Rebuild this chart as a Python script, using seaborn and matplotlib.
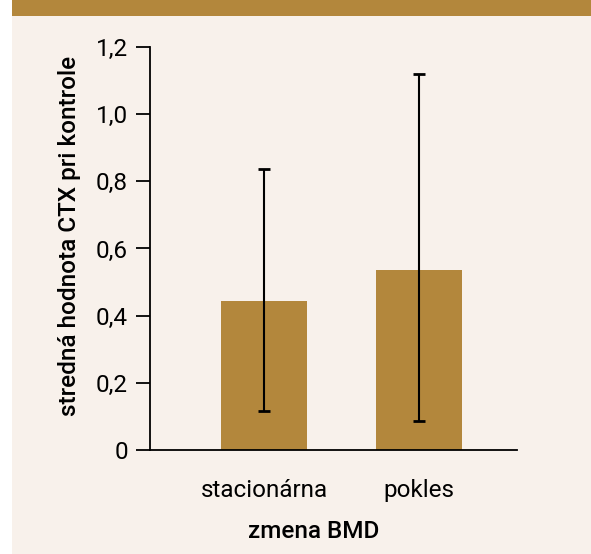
import matplotlib
matplotlib.use("Agg")
import matplotlib.pyplot as plt
import seaborn as sns
import pandas as pd
from matplotlib.ticker import FuncFormatter
from matplotlib.patches import Rectangle

categories = ["stacionárna", "pokles"]
means = [0.444, 0.536]
err_low = [0.117, 0.087]
err_high = [0.837, 1.12]
y_ticks = [0, 0.2, 0.4, 0.6, 0.8, 1.0, 1.2]

BG = "#f8f1eb"
BAR = "#b3873c"
FS = 17.5

sns.set_theme(style="white")
plt.rcParams["font.family"] = ["Roboto", "DejaVu Sans"]

fig = plt.figure(figsize=(5.91, 5.54), dpi=100)
fig.patch.set_facecolor("white")
fig.patches.append(Rectangle((12 / 591, 0), 1 - 12 / 591, 1 - 1 / 554,
                             transform=fig.transFigure, facecolor=BG,
                             edgecolor="none", zorder=-10))
fig.patches.append(Rectangle((12 / 591, 1 - 16 / 554), 1 - 12 / 591, 16 / 554,
                             transform=fig.transFigure, facecolor=BAR,
                             edgecolor="none", zorder=-9))

ax = fig.add_axes([150 / 591, 1 - 450 / 554, 367 / 591, 403 / 554])
ax.set_facecolor("none")

df = pd.DataFrame({"zmena": categories, "ctx": means})
sns.barplot(data=df, x="zmena", y="ctx", color=BAR, saturation=1,
            width=0.555, ax=ax, errorbar=None, order=categories, linewidth=0)

xs = list(range(len(categories)))
lower = [m - l for m, l in zip(means, err_low)]
upper = [h - m for m, h in zip(means, err_high)]
ax.errorbar(xs, means, yerr=[lower, upper], fmt="none", ecolor="black",
            elinewidth=1.5, capsize=4.5, capthick=2, zorder=5)

ax.set_xlim(-0.735, 1.632)
ax.set_ylim(0, 1.2)
ax.set_yticks(y_ticks)
ax.yaxis.set_major_formatter(FuncFormatter(
    lambda v, p: "0" if abs(v) < 1e-9 else f"{v:.1f}".replace(".", ",")))

for s in ["top", "right"]:
    ax.spines[s].set_visible(False)
for s in ["left", "bottom"]:
    ax.spines[s].set_color("black")
    ax.spines[s].set_linewidth(1.3)

ax.tick_params(axis="y", length=10, width=1.3, color="black", pad=6,
               labelsize=FS, labelcolor="black", left=True)
ax.tick_params(axis="x", length=0, pad=21, labelsize=FS, labelcolor="black")

ax.set_xlabel("zmena BMD", fontsize=FS, fontweight="medium", color="black")
ax.set_ylabel("stredná hodnota CTX pri kontrole", fontsize=FS,
              fontweight="medium", color="black")
ax.xaxis.set_label_coords(0.447, -0.173)
ax.yaxis.set_label_coords(-0.187, 0.53)

fig.savefig("out.png", dpi=100, facecolor=fig.get_facecolor())
